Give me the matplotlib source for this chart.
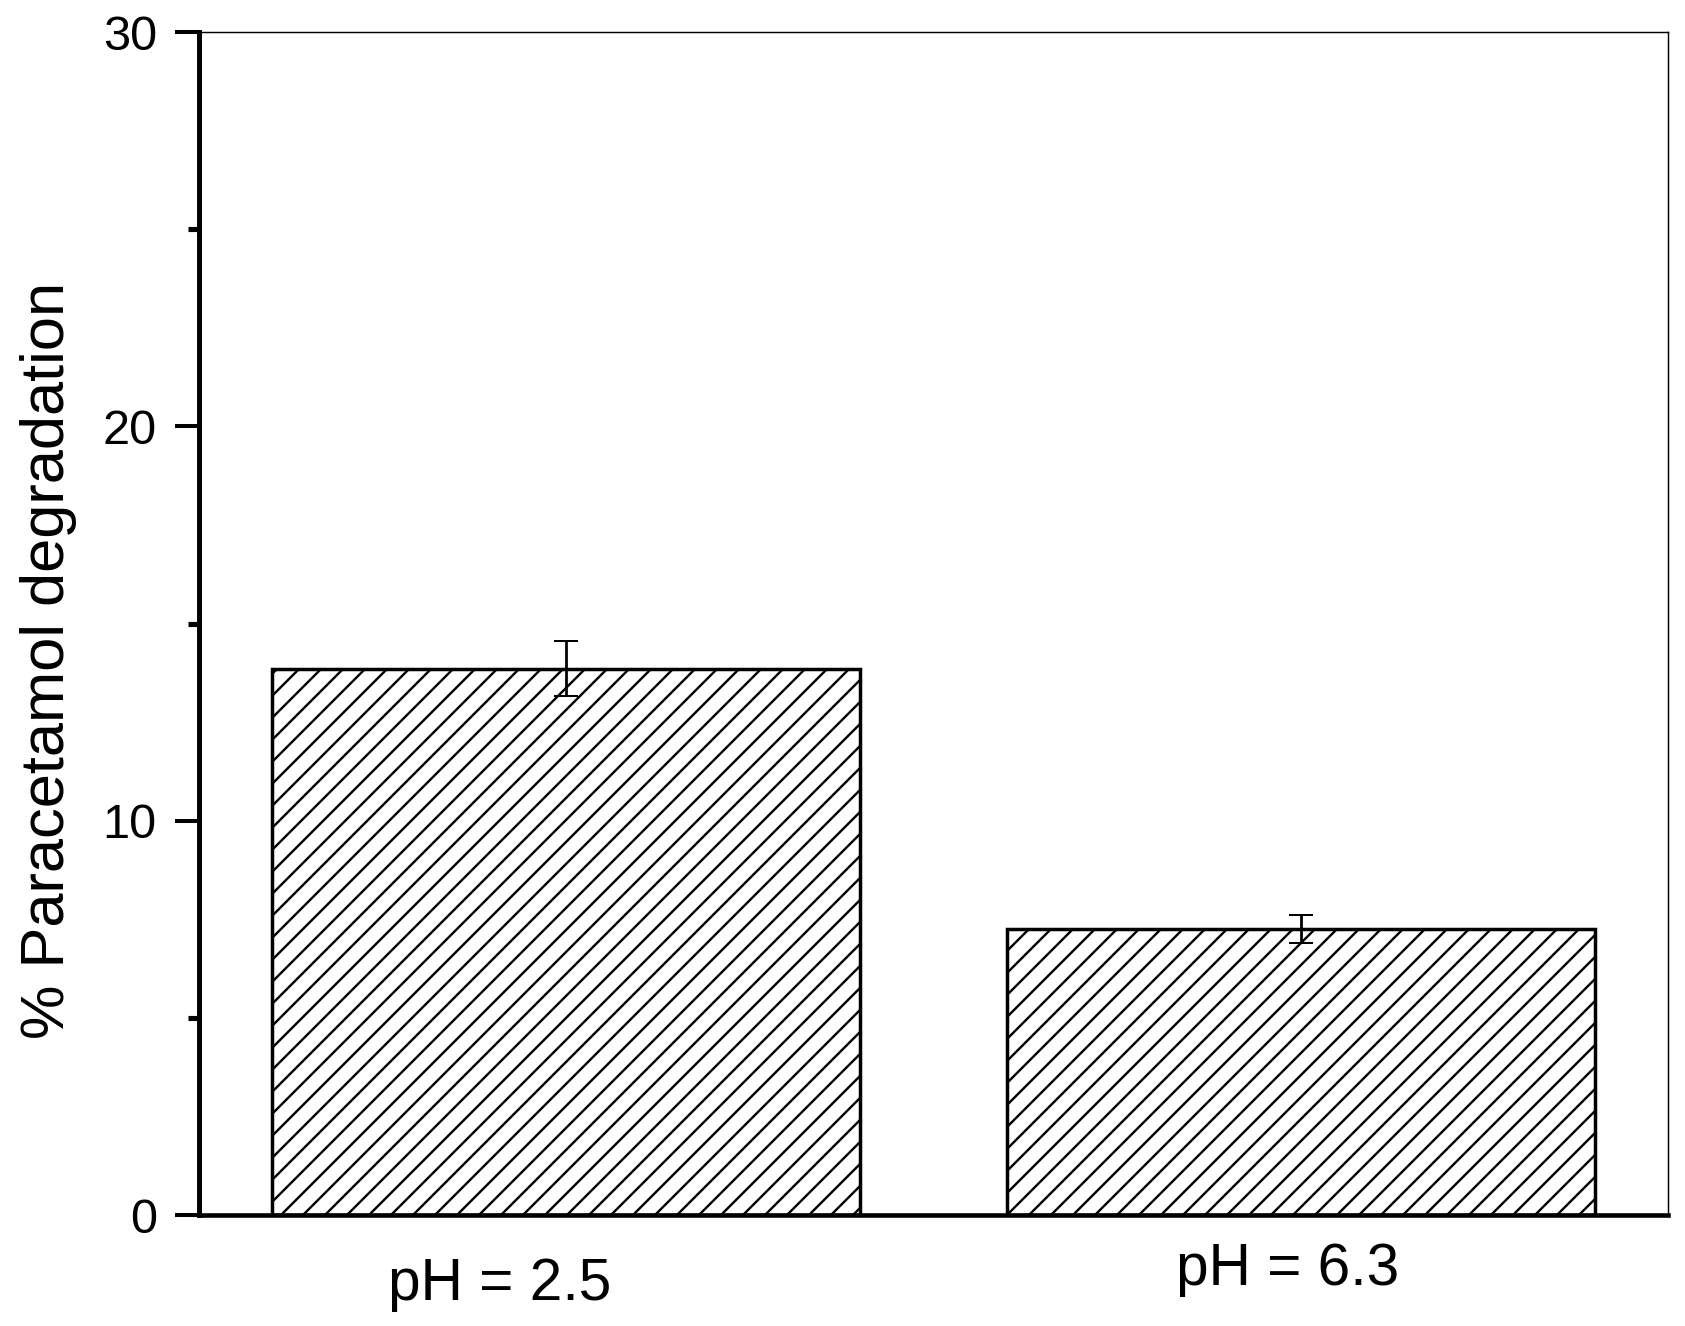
import matplotlib
matplotlib.use("Agg")
import matplotlib.pyplot as plt
from matplotlib.ticker import MultipleLocator

plt.rcParams['font.family'] = ['Liberation Sans', 'DejaVu Sans']
plt.rcParams['hatch.linewidth'] = 1.3

categories = ["pH = 2.5", "pH = 6.3"]
degradation = [13.85, 7.25]
errors = [0.70, 0.36]

DPI = 132
fig = plt.figure(figsize=(1685 / DPI, 1326 / DPI), dpi=DPI)
ax = fig.add_axes([0.1181, 0.0837, 0.8718, 0.8921])

xpos = list(range(1, len(categories) + 1))
ax.bar(xpos, degradation, width=0.8, color='white', edgecolor='black',
       linewidth=1.9, hatch='//', zorder=2)
ax.errorbar(xpos, degradation, yerr=errors, fmt='none', ecolor='black',
            elinewidth=1.5, capsize=6.3, capthick=1.1, zorder=3)

ax.set_xlim(0.5, 2.5)
ax.set_ylim(0, 30)
ax.yaxis.set_major_locator(MultipleLocator(10))
ax.yaxis.set_minor_locator(MultipleLocator(5))
ax.tick_params(axis='y', which='major', direction='out', length=13, width=2.2,
               labelsize=26.5, pad=10)
ax.tick_params(axis='y', which='minor', direction='out', length=6, width=2.8)
ax.set_xticks([])

ax.spines['left'].set_linewidth(2.7)
ax.spines['bottom'].set_linewidth(2.5)
ax.spines['top'].set_linewidth(0.8)
ax.spines['right'].set_linewidth(0.8)

ax.set_ylabel("% Paracetamol degradation", fontsize=33.5)
ax.yaxis.set_label_coords(-0.083, 0.469)

# category labels placed below the axis as in the original
label_x_offsets = [-0.09, -0.018]
label_y = [-0.0719, -0.0592]
for xp, cat, dx, yy in zip(xpos, categories, label_x_offsets, label_y):
    ax.text(xp + dx, yy, cat, transform=ax.get_xaxis_transform(),
            ha='center', va='baseline', fontsize=32)

fig.savefig("out.png", dpi=DPI)
